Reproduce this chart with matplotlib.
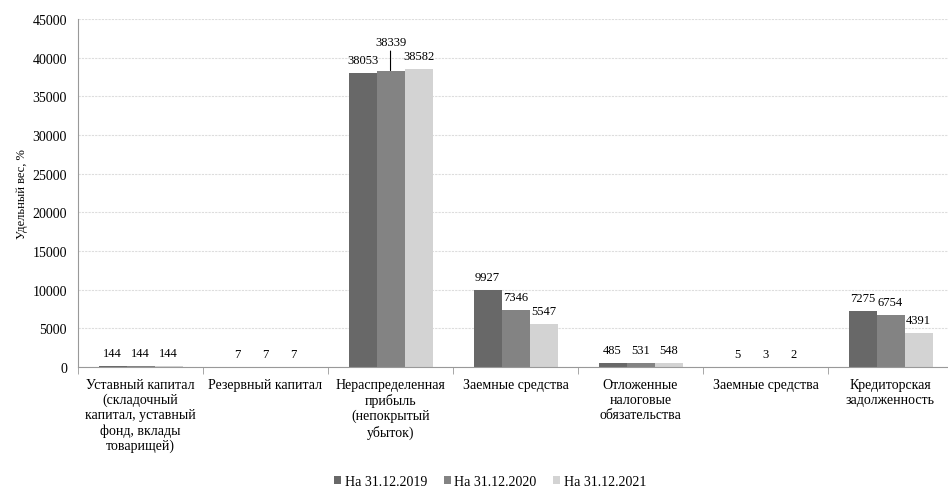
import numpy as np
import matplotlib
matplotlib.use("Agg")
import matplotlib.pyplot as plt

categories = [
    "Уставный капитал\n(складочный\nкапитал, уставный\nфонд, вклады\nтоварищей)",
    "Резервный капитал",
    "Нераспределенная\nприбыль\n(непокрытый\nубыток)",
    "Заемные средства",
    "Отложенные\nналоговые\nобязательства",
    "Заемные средства",
    "Кредиторская\nзадолженность",
]
series_names = ["На 31.12.2019", "На 31.12.2020", "На 31.12.2021"]
v2019 = [144, 7, 38053, 9927, 485, 5, 7275]
v2020 = [144, 7, 38339, 7346, 531, 3, 6754]
v2021 = [144, 7, 38582, 5547, 548, 2, 4391]
colors = ["#686868", "#838383", "#d3d3d3"]

plt.rcParams["font.family"] = ["Liberation Serif", "DejaVu Serif"]

fig = plt.figure(figsize=(9.48, 4.89), dpi=100)
ax = fig.add_axes([0.0823, 0.2474, 0.923, 0.7117])

x = np.arange(len(categories))
w = 0.224
for i, (vals, name, c) in enumerate(zip([v2019, v2020, v2021], series_names, colors)):
    pos = x + (i - 1) * w
    ax.bar(pos, vals, width=w, color=c, label=name, zorder=2)
    for j, (p, v) in enumerate(zip(pos, vals)):
        if j == 2 and i == 1:
            # raised label with leader line
            ax.annotate(str(v), xy=(p, v), xytext=(0, 16), textcoords="offset points",
                        ha="center", va="bottom", fontsize=9,
                        arrowprops=dict(arrowstyle="-", color="black", lw=0.8,
                                        shrinkA=0, shrinkB=0))
        else:
            ax.annotate(str(v), xy=(p, v), xytext=(0, 5), textcoords="offset points",
                        ha="center", va="bottom", fontsize=9)

ax.set_xlim(-0.5, len(categories) - 0.5)
ax.set_ylim(0, 45000)
ax.set_yticks(np.arange(0, 45001, 5000))
ax.set_xticks(x)
ax.set_xticklabels(categories, fontsize=10, linespacing=1.18)
ax.set_xticks(np.arange(-0.5, len(categories) + 0.5, 1), minor=True)
ax.tick_params(axis="x", which="major", length=0, pad=8)
ax.tick_params(axis="x", which="minor", length=5, color="#999999")
ax.tick_params(axis="y", length=0, labelsize=10, pad=8)
ax.yaxis.grid(True, color="#dddddd", linestyle=(0, (2, 1)), lw=0.8, zorder=0)
for s in ["top", "right"]:
    ax.spines[s].set_visible(False)
ax.spines["left"].set_color("#999999")
ax.spines["bottom"].set_color("#999999")
ax.set_ylabel("Удельный вес, %", fontsize=9, labelpad=3)

fig.legend(loc="lower center", bbox_to_anchor=(0.517, -0.025), ncol=3, frameon=False,
           fontsize=10, handlelength=0.5, handleheight=0.5, handletextpad=0.25,
           columnspacing=1.2)

fig.savefig("out.png", dpi=100)
